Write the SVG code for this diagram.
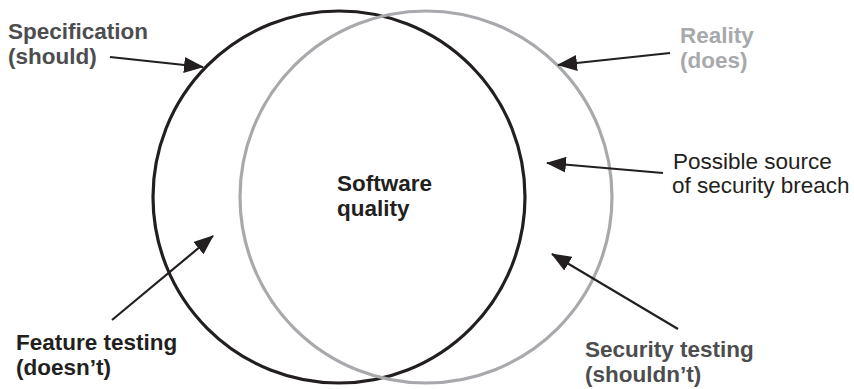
<svg xmlns="http://www.w3.org/2000/svg" width="854" height="389" viewBox="0 0 854 389">
<style>
.lbl{font-family:"Liberation Sans",Arial,sans-serif;font-size:22.5px;font-weight:bold}
.reg{font-family:"Liberation Sans",Arial,sans-serif;font-size:22.5px}
.conn{stroke:#231f20;stroke-width:2.2;fill:none}
</style>
<defs>
<marker id="ah" markerWidth="20" markerHeight="16" refX="19" refY="8" orient="auto" markerUnits="userSpaceOnUse">
<path d="M0,0 L20,8 L0,16 Z" fill="#231f20"/>
</marker>
</defs>
<rect width="854" height="389" fill="#ffffff"/>
<g id="spec-circle"><circle cx="339" cy="197" r="186" fill="none" stroke="#231f20" stroke-width="3.2"/></g>
<g id="reality-circle"><circle cx="426" cy="197" r="186" fill="none" stroke="#a7a9ac" stroke-width="3.2"/></g>
<g id="connectors">
<line class="conn" x1="110" y1="57" x2="203" y2="67" marker-end="url(#ah)"/>
<line class="conn" x1="670" y1="53" x2="558" y2="65" marker-end="url(#ah)"/>
<line class="conn" x1="663" y1="173" x2="547" y2="163" marker-end="url(#ah)"/>
<line class="conn" x1="112" y1="320" x2="213" y2="236" marker-end="url(#ah)"/>
<line class="conn" x1="678" y1="329" x2="552" y2="254" marker-end="url(#ah)"/>
</g>
<g id="spec-label"><text class="lbl" fill="#4d4d4f" x="8" y="39">Specification<tspan x="8" y="64">(should)</tspan></text></g>
<g id="reality-label"><text class="lbl" fill="#a7a9ac" x="680" y="43">Reality<tspan x="680" y="68">(does)</tspan></text></g>
<g id="quality-label"><text class="lbl" fill="#231f20" x="337" y="191">Software<tspan x="337" y="216">quality</tspan></text></g>
<g id="breach-label"><text class="reg" fill="#231f20" x="673" y="169">Possible source<tspan x="672" y="193">of security breach</tspan></text></g>
<g id="feature-label"><text class="lbl" fill="#231f20" x="16" y="350">Feature testing<tspan x="16" y="375">(doesn’t)</tspan></text></g>
<g id="security-label"><text class="lbl" fill="#4d4d4f" x="585" y="357">Security testing<tspan x="585" y="382">(shouldn’t)</tspan></text></g>
</svg>
